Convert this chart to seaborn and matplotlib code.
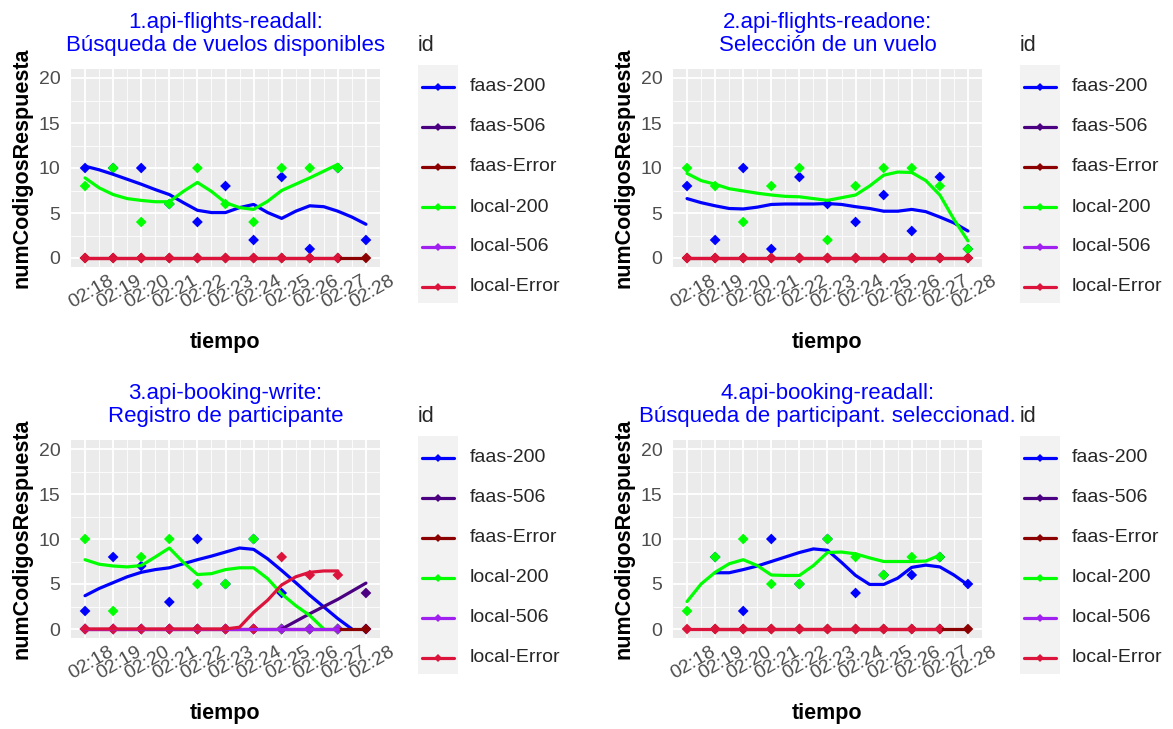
import numpy as np
import pandas as pd
import matplotlib
matplotlib.use("Agg")
import matplotlib.pyplot as plt
import matplotlib.transforms as mtransforms
from matplotlib.patches import Rectangle
from matplotlib.lines import Line2D
import seaborn as sns

nan = np.nan

# ---- time axis ----------------------------------------------------------
minutes = ["02:18", "02:19", "02:20", "02:21", "02:22", "02:23",
           "02:24", "02:25", "02:26", "02:27", "02:28"]
fit_step = 0.5  # smoothed curves are tabulated every half minute

series_ids = ["faas-200", "faas-506", "faas-Error",
              "local-200", "local-506", "local-Error"]
series_colors = ["#0000FF", "#4B0082", "#8B0000",
                 "#00FF00", "#A020F0", "#DC143C"]

titles = ["1.api-flights-readall:\nBúsqueda de vuelos disponibles",
          "2.api-flights-readone:\nSelección de un vuelo",
          "3.api-booking-write:\nRegistro de participante",
          "4.api-booking-readall:\nBúsqueda de participant. seleccionad."]

# ---- 1. flights-readall -------------------------------------------------
ra_faas200 = [10, 10, 10, 6, 4, 8, 2, 9, 1, 10, 2]
ra_local200 = [8, 10, 4, 6, 10, 6, 4, 10, 10, 10, nan]
ra_faasError = [0, 0, 0, 0, 0, 0, 0, 0, 0, 0, 0]
ra_localError = [0, 0, 0, 0, 0, 0, 0, 0, 0, 0, nan]
ra_faas200_fit = [10.2, 9.8, 9.3, 8.75, 8.2, 7.6, 7.05, 6.15, 5.3, 5.05, 5.05,
                  5.6, 5.95, 5.05, 4.4, 5.2, 5.8, 5.7, 5.2, 4.55, 3.75]
ra_local200_fit = [8.9, 7.8, 7.05, 6.6, 6.4, 6.25, 6.25, 7.4, 8.4, 7.4, 6.15,
                   5.6, 5.4, 6.3, 7.5, 8.2, 8.9, 9.65, 10.4, nan, nan]
ra_faasError_fit = [0] * 21
ra_localError_fit = [0] * 19 + [nan, nan]

# ---- 2. flights-readone -------------------------------------------------
ro_faas200 = [8, 2, 10, 1, 9, 6, 4, 7, 3, 9, 1]
ro_local200 = [10, 8, 4, 8, 10, 2, 8, 10, 10, 8, 1]
ro_faasError = [0, 0, 0, 0, 0, 0, 0, 0, 0, 0, 0]
ro_localError = [0, 0, 0, 0, 0, 0, 0, 0, 0, 0, 0]
ro_faas200_fit = [6.6, 6.15, 5.8, 5.5, 5.45, 5.65, 5.95, 6.0, 6.0, 6.0, 6.05,
                  5.95, 5.7, 5.5, 5.2, 5.2, 5.4, 5.15, 4.55, 3.9, 3.0]
ro_local200_fit = [9.4, 8.6, 8.2, 7.7, 7.45, 7.2, 7.0, 6.85, 6.8, 6.6, 6.4,
                   6.7, 7.0, 8.0, 9.2, 9.55, 9.5, 8.6, 7.0, 4.3, 1.9]
ro_faasError_fit = [0] * 21
ro_localError_fit = [0] * 21

# ---- 3. booking-write ---------------------------------------------------
bw_faas200 = [2, 8, 7, 3, 10, 5, 10, 4, 0, 0, 0]
bw_faas506 = [0, 0, 0, 0, 0, 0, 0, 0, 0, 0, 4]
bw_faasError = [0, 0, 0, 0, 0, 0, 0, 0, 0, 0, 0]
bw_local200 = [10, 2, 8, 10, 5, 5, 10, 0, 0, 0, nan]
bw_local506 = [0, 0, 0, 0, 0, 0, 0, 0, 0, 0, nan]
bw_localError = [0, 0, 0, 0, 0, 0, 0, 8, 6, 6, nan]
bw_faas200_fit = [3.7, 4.5, 5.15, 5.8, 6.3, 6.6, 6.8, 7.25, 7.7, 8.1, 8.55,
                  9.0, 8.85, 7.8, 6.5, 5.15, 3.75, 2.45, 1.15, 0.0, nan]
bw_faas506_fit = [nan] * 14 + [0.0, 0.85, 1.7, 2.5, 3.3, 4.2, 5.1]
bw_faasError_fit = [0] * 21
bw_local200_fit = [7.7, 7.2, 7.0, 6.9, 7.05, 8.0, 9.0, 7.4, 6.05, 6.15, 6.6,
                   6.8, 6.8, 5.6, 3.9, 2.6, 1.5, 0.0, nan, nan, nan]
bw_local506_fit = [0] * 19 + [nan, nan]
bw_localError_fit = [0] * 11 + [0.2, 1.85, 3.2, 4.9, 5.8, 6.3, 6.45, 6.45,
                                nan, nan]

# ---- 4. booking-readall -------------------------------------------------
br_faas200 = [nan, 8, 2, 10, 5, 10, 4, 6, 6, 8, 5]
br_local200 = [2, 8, 10, 5, 5, 10, 8, 6, 8, 8, nan]
br_faasError = [nan, 0, 0, 0, 0, 0, 0, 0, 0, 0, 0]
br_localError = [0, 0, 0, 0, 0, 0, 0, 0, 0, 0, nan]
br_faas200_fit = [nan, nan, 6.25, 6.25, 6.6, 7.0, 7.5, 8.0, 8.5, 8.9, 8.75,
                  7.4, 5.95, 4.95, 4.95, 5.65, 6.85, 7.1, 6.9, 6.0, 4.9]
br_local200_fit = [3.05, 5.0, 6.3, 7.25, 7.7, 7.05, 6.0, 5.95, 5.95, 7.05, 8.5,
                   8.55, 8.35, 7.9, 7.5, 7.5, 7.5, 7.55, 8.2, nan, nan]
br_faasError_fit = [nan, nan] + [0] * 19
br_localError_fit = [0] * 19 + [nan, nan]

panels = [
    ({"faas-200": ra_faas200, "faas-Error": ra_faasError,
      "local-200": ra_local200, "local-Error": ra_localError},
     {"faas-200": ra_faas200_fit, "faas-Error": ra_faasError_fit,
      "local-200": ra_local200_fit, "local-Error": ra_localError_fit}),
    ({"faas-200": ro_faas200, "faas-Error": ro_faasError,
      "local-200": ro_local200, "local-Error": ro_localError},
     {"faas-200": ro_faas200_fit, "faas-Error": ro_faasError_fit,
      "local-200": ro_local200_fit, "local-Error": ro_localError_fit}),
    ({"faas-200": bw_faas200, "faas-506": bw_faas506,
      "faas-Error": bw_faasError, "local-200": bw_local200,
      "local-506": bw_local506, "local-Error": bw_localError},
     {"faas-200": bw_faas200_fit, "faas-506": bw_faas506_fit,
      "faas-Error": bw_faasError_fit, "local-200": bw_local200_fit,
      "local-506": bw_local506_fit, "local-Error": bw_localError_fit}),
    ({"faas-200": br_faas200, "faas-Error": br_faasError,
      "local-200": br_local200, "local-Error": br_localError},
     {"faas-200": br_faas200_fit, "faas-Error": br_faasError_fit,
      "local-200": br_local200_fit, "local-Error": br_localError_fit}),
]

palette = dict(zip(series_ids, series_colors))
minute_pos = np.arange(len(minutes))


def long_frames(counts, fits):
    pts, fit_rows = [], []
    for sid in series_ids:
        if sid in counts:
            for x, v in zip(minute_pos, counts[sid]):
                if not np.isnan(v):
                    pts.append((sid, x, v))
        if sid in fits:
            for k, v in enumerate(fits[sid]):
                if not np.isnan(v):
                    fit_rows.append((sid, k * fit_step, v))
    cols = ["id", "minuto", "numCodigosRespuesta"]
    return pd.DataFrame(pts, columns=cols), pd.DataFrame(fit_rows, columns=cols)


# ---- styling ------------------------------------------------------------
sns.set_theme(style="darkgrid")
plt.rcParams["font.family"] = ["Liberation Sans", "DejaVu Sans"]

W, H = 1173, 729
fig = plt.figure(figsize=(W / 100, H / 100), dpi=100)
fig.patch.set_facecolor("white")


def add_px_axes(left, top, right, bottom):
    return fig.add_axes([left / W, 1 - bottom / H,
                         (right - left) / W, (bottom - top) / H])


boxes = [(71, 69, 380, 267), (673, 69, 982, 267),
         (71, 440, 380, 638), (673, 440, 982, 638)]

label_shift = mtransforms.ScaledTranslation(6 / 100, 0, fig.dpi_scale_trans)

for (counts, fits), title, (l, t, r, b) in zip(panels, titles, boxes):
    ax = add_px_axes(l, t, r, b)
    ax.set_facecolor("#EBEBEB")
    ax.set_axisbelow(True)
    for s in ax.spines.values():
        s.set_visible(False)

    pts_df, fit_df = long_frames(counts, fits)
    sns.scatterplot(data=pts_df, x="minuto", y="numCodigosRespuesta",
                    hue="id", hue_order=series_ids, palette=palette,
                    marker="D", s=30, linewidth=0, legend=False, ax=ax,
                    zorder=2)
    sns.lineplot(data=fit_df, x="minuto", y="numCodigosRespuesta",
                 hue="id", hue_order=series_ids, palette=palette,
                 estimator=None, linewidth=2.3, legend=False, ax=ax,
                 zorder=3)

    ax.set_xlim(-0.5, 10.5)
    ax.set_ylim(-1, 21)
    ax.set_xticks(minute_pos)
    ax.set_xticklabels(minutes, rotation=30, ha="center")
    ax.set_xticks(np.arange(0.5, 10, 1), minor=True)
    ax.set_yticks([0, 5, 10, 15, 20])
    ax.set_yticks([2.5, 7.5, 12.5, 17.5], minor=True)
    ax.grid(which="major", color="white", linewidth=1.3)
    ax.grid(which="minor", color="white", linewidth=0.6)
    ax.tick_params(which="major", direction="out", length=2.6, width=0.8,
                   color="#333333", labelcolor="#4D4D4D", labelsize=14)
    ax.tick_params(axis="y", which="major", pad=5)
    ax.tick_params(axis="x", which="major", pad=1.5)
    ax.tick_params(which="minor", length=0)
    for lab in ax.get_xticklabels():
        lab.set_transform(lab.get_transform() + label_shift)

    ax.set_xlabel("tiempo", fontsize=15.5, fontweight="bold", color="black")
    ax.set_ylabel("numCodigosRespuesta", fontsize=15.5, fontweight="bold",
                  color="black")
    ax.xaxis.set_label_coords(0.5, -0.379)
    ax.xaxis.label.set_verticalalignment("center")
    ax.yaxis.set_label_coords((22 - 71) / (r - l), 0.5)
    ax.yaxis.label.set_verticalalignment("center")

    ax.text(0.5, 1.178, title, transform=ax.transAxes, ha="center",
            va="center", color="#0000FF", fontsize=16, linespacing=1.12)

    # legend column to the right of the panel
    dx, dy = l - 71, t - 69
    lax = add_px_axes(405 + dx, 25 + dy, 600 + dx, 320 + dy)
    lax.set_xlim(405 + dx, 600 + dx)
    lax.set_ylim(320 + dy, 25 + dy)
    lax.axis("off")
    lax.text(418 + dx, 46 + dy, "id", fontsize=15.5, va="center", ha="left")
    lax.add_patch(Rectangle((418 + dx, 65 + dy), 40, 238,
                            facecolor="#F2F2F2", edgecolor="none"))
    for i, (sid, col) in enumerate(zip(series_ids, series_colors)):
        yy = 87 + 40 * i + dy
        lax.add_line(Line2D([422 + dx, 454 + dx], [yy, yy], color=col,
                            linewidth=2.3))
        lax.plot([438 + dx], [yy], marker="D", markersize=4.5, color=col,
                 markeredgewidth=0)
        lax.text(470 + dx, yy, sid, fontsize=14, va="center", ha="left")

fig.savefig("out.png", dpi=100)
